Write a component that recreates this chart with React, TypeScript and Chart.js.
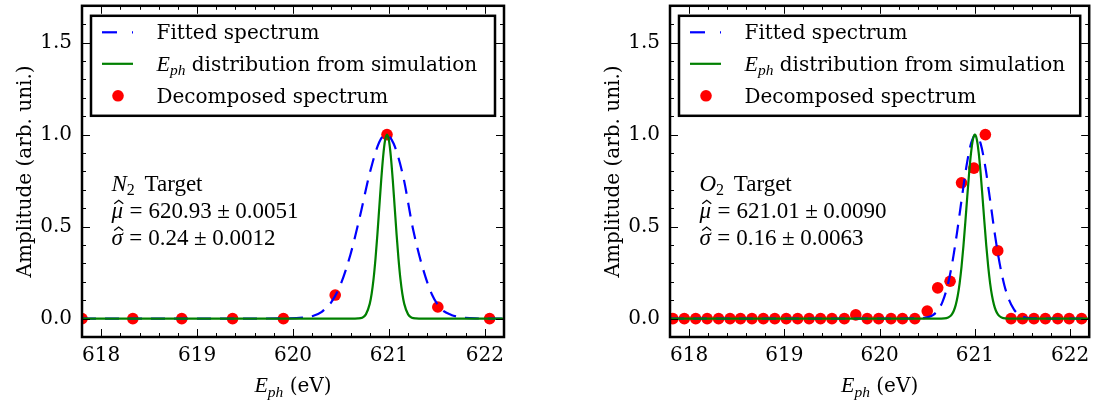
import React, { useEffect, useRef } from "react";
import { Chart, registerables } from "chart.js";

Chart.register(...registerables);

// ---------------- data ----------------
const X_MIN = 617.8;
const X_MAX = 622.2;
const Y_MIN = -0.1;
const Y_MAX = 1.7;
const X_TICKS = [618, 619, 620, 621, 622];
const X_MINOR_TICKS = [618.2, 618.4, 618.6, 618.8, 619.2, 619.4, 619.6, 619.8, 620.2, 620.4, 620.6, 620.8, 621.2, 621.4, 621.6, 621.8];
const Y_TICKS = [0, 0.5, 1.0, 1.5];
const Y_MINOR_TICKS = [0.1, 0.2, 0.3, 0.4, 0.6, 0.7, 0.8, 0.9, 1.1, 1.2, 1.3, 1.4, 1.6];

const LEGEND_LABELS = ["Fitted spectrum", " distribution from simulation", "Decomposed spectrum"];

// N2 target (left panel)
const N2_POINTS_X = [617.80, 618.33, 618.84, 619.37, 619.90, 620.44, 620.98, 621.51, 622.05];
const N2_POINTS_Y = [0, 0, 0, 0, 0, 0.128, 1.0, 0.063, 0];
const N2_FIT_X = [617.8, 618.5, 619.2, 619.9, 620.1, 620.2, 620.3, 620.4, 620.5, 620.6, 620.7, 620.8, 620.9, 620.97, 621.05, 621.15, 621.25, 621.35, 621.45, 621.55, 621.65, 621.75, 621.9, 622.2];
const N2_FIT_Y = [0, 0, 0, 0.001, 0.005, 0.013, 0.037, 0.09, 0.19, 0.35, 0.56, 0.79, 0.96, 1.0, 0.95, 0.77, 0.49, 0.28, 0.13, 0.05, 0.02, 0.007, 0.001, 0];
const N2_SIM_X = [617.8, 620.6, 620.68, 620.72, 620.76, 620.8, 620.82, 620.84, 620.86, 620.88, 620.9, 620.92, 620.94, 620.96, 620.98, 621.0, 621.02, 621.04, 621.06, 621.08, 621.1, 621.12, 621.14, 621.16, 621.2, 621.24, 621.28, 621.36, 622.2];
const N2_SIM_Y = [0, 0, 0.001, 0.005, 0.023, 0.08, 0.135, 0.216, 0.325, 0.458, 0.607, 0.755, 0.882, 0.969, 1.0, 0.969, 0.882, 0.755, 0.607, 0.458, 0.325, 0.216, 0.135, 0.08, 0.023, 0.005, 0.001, 0, 0];

// O2 target (right panel)
const O2_POINTS_X = [617.83, 617.95, 618.07, 618.19, 618.31, 618.43, 618.54, 618.66, 618.78, 618.90, 619.02, 619.14, 619.26, 619.38, 619.50, 619.63, 619.75, 619.87, 619.99, 620.12, 620.24, 620.37, 620.50, 620.61, 620.74, 620.86, 620.99, 621.11, 621.24, 621.38, 621.50, 621.62, 621.74, 621.87, 621.99, 622.12];
const O2_POINTS_Y = [0, 0, 0, 0, 0, 0, 0, 0, 0, 0, 0, 0, 0, 0, 0, 0, 0.02, 0, 0, 0, 0, 0, 0.041, 0.167, 0.203, 0.738, 0.818, 1.0, 0.369, 0, 0, 0, 0, 0, 0, 0];
const O2_FIT_X = [617.8, 620.0, 620.41, 620.51, 620.56, 620.61, 620.66, 620.71, 620.76, 620.81, 620.86, 620.91, 620.96, 621.01, 621.06, 621.11, 621.16, 621.21, 621.26, 621.31, 621.36, 621.41, 621.46, 621.51, 621.61, 622.2];
const O2_FIT_Y = [0, 0, 0.001, 0.008, 0.019, 0.044, 0.091, 0.172, 0.295, 0.458, 0.644, 0.823, 0.952, 1.0, 0.952, 0.823, 0.644, 0.458, 0.3, 0.18, 0.1, 0.05, 0.022, 0.008, 0.001, 0];
const O2_SIM_X = [617.8, 620.6, 620.68, 620.72, 620.74, 620.76, 620.78, 620.8, 620.82, 620.84, 620.86, 620.88, 620.9, 620.92, 620.94, 620.96, 620.98, 621.0, 621.02, 621.04, 621.06, 621.08, 621.1, 621.12, 621.14, 621.16, 621.18, 621.2, 621.22, 621.24, 621.26, 621.28, 621.32, 621.4, 622.2];
const O2_SIM_Y = [0, 0, 0.0014, 0.0064, 0.0128, 0.024, 0.044, 0.076, 0.124, 0.192, 0.282, 0.395, 0.525, 0.662, 0.793, 0.902, 0.975, 1.0, 0.975, 0.902, 0.793, 0.662, 0.525, 0.395, 0.282, 0.192, 0.124, 0.076, 0.044, 0.024, 0.0128, 0.0064, 0.0014, 0, 0];

// ---------------- styles ----------------
const SERIF = '"DejaVu Serif", serif';
const MATH = '"Liberation Serif", serif';
const TICK_FONT_SIZE = 20;
const MATH_SIZE = 23;
const mIt = (s: number) => `italic ${s}px ${MATH}`;
const mRm = (s: number) => `${s}px ${MATH}`;
const txt = (s: number) => `${s}px ${SERIF}`;

type Run = { t?: string; f?: string; dy?: number; gap?: number };

function drawRuns(ctx: CanvasRenderingContext2D, x: number, y: number, runs: Run[]) {
  let cx = x;
  const pos: { x: number; w: number }[] = [];
  for (const r of runs) {
    if (r.gap) {
      cx += r.gap;
      pos.push({ x: cx, w: 0 });
      continue;
    }
    ctx.font = r.f as string;
    const w = ctx.measureText(r.t as string).width;
    ctx.fillText(r.t as string, cx, y + (r.dy || 0));
    pos.push({ x: cx, w });
    cx += w;
  }
  return pos;
}

function runsWidth(ctx: CanvasRenderingContext2D, runs: Run[]) {
  let w = 0;
  for (const r of runs) {
    if (r.gap) { w += r.gap; continue; }
    ctx.font = r.f as string;
    w += ctx.measureText(r.t as string).width;
  }
  return w;
}

function drawHat(ctx: CanvasRenderingContext2D, cx: number, baseline: number) {
  ctx.save();
  ctx.lineWidth = 1.3;
  ctx.strokeStyle = "#000";
  ctx.beginPath();
  ctx.moveTo(cx - 4.5, baseline - 14);
  ctx.lineTo(cx, baseline - 17.5);
  ctx.lineTo(cx + 4.5, baseline - 14);
  ctx.stroke();
  ctx.restore();
}

type PanelDef = {
  key: string;
  target: string;
  mu: string;
  muErr: string;
  sigma: string;
  sigmaErr: string;
  pointsX: number[];
  pointsY: number[];
  fitX: number[];
  fitY: number[];
  simX: number[];
  simY: number[];
  canvasLeft: number;
  canvasWidth: number;
  axisWidth: number;
  padRight: number;
};

const PANELS: PanelDef[] = [
  {
    key: "n2", target: "N", mu: "620.93", muErr: "0.0051", sigma: "0.24", sigmaErr: "0.0012",
    pointsX: N2_POINTS_X, pointsY: N2_POINTS_Y, fitX: N2_FIT_X, fitY: N2_FIT_Y, simX: N2_SIM_X, simY: N2_SIM_Y,
    canvasLeft: 0, canvasWidth: 547, axisWidth: 82, padRight: 43,
  },
  {
    key: "o2", target: "O", mu: "621.01", muErr: "0.0090", sigma: "0.16", sigmaErr: "0.0063",
    pointsX: O2_POINTS_X, pointsY: O2_POINTS_Y, fitX: O2_FIT_X, fitY: O2_FIT_Y, simX: O2_SIM_X, simY: O2_SIM_Y,
    canvasLeft: 547, canvasWidth: 548, axisWidth: 123, padRight: 3,
  },
];

const toXY = (xs: number[], ys: number[]) => xs.map((x, i) => ({ x, y: ys[i] }));

function makeDecor(p: PanelDef) {
  return {
    id: "decor_" + p.key,
    afterDatasetsDraw(chart: any) {
      const ctx: CanvasRenderingContext2D = chart.ctx;
      const a = chart.chartArea;
      const xs = chart.scales.x;
      const ys = chart.scales.y;
      ctx.save();

      // inward ticks on all four sides
      ctx.strokeStyle = "#000";
      ctx.lineWidth = 1;
      ctx.beginPath();
      const xTick = (v: number, len: number) => {
        const px = Math.round(xs.getPixelForValue(v)) + 0.5;
        ctx.moveTo(px, a.bottom); ctx.lineTo(px, a.bottom - len);
        ctx.moveTo(px, a.top); ctx.lineTo(px, a.top + len);
      };
      const yTick = (v: number, len: number) => {
        const py = Math.round(ys.getPixelForValue(v)) + 0.5;
        ctx.moveTo(a.left, py); ctx.lineTo(a.left + len, py);
        ctx.moveTo(a.right, py); ctx.lineTo(a.right - len, py);
      };
      X_TICKS.forEach((v) => xTick(v, 8));
      X_MINOR_TICKS.forEach((v) => xTick(v, 4));
      Y_TICKS.forEach((v) => yTick(v, 8));
      Y_MINOR_TICKS.forEach((v) => yTick(v, 4));
      ctx.stroke();

      // spines
      ctx.lineWidth = 2.5;
      ctx.strokeRect(a.left, a.top, a.right - a.left, a.bottom - a.top);

      // legend
      const lx = a.left + 9;
      const ly = a.top + 10;
      const lw = a.right - a.left - 18;
      const lh = 100;
      ctx.fillStyle = "#fff";
      ctx.fillRect(lx, ly, lw, lh);
      ctx.lineWidth = 2.5;
      ctx.strokeStyle = "#000";
      ctx.strokeRect(lx, ly, lw, lh);
      const rows = [a.top + 26.5, a.top + 58, a.top + 90];
      // fitted handle
      ctx.save();
      ctx.strokeStyle = "#0000ff";
      ctx.lineWidth = 2.2;
      ctx.setLineDash([15, 15]);
      ctx.beginPath();
      ctx.moveTo(lx + 11, rows[0]);
      ctx.lineTo(lx + 42, rows[0]);
      ctx.stroke();
      ctx.restore();
      // sim handle
      ctx.strokeStyle = "#008000";
      ctx.lineWidth = 2.2;
      ctx.beginPath();
      ctx.moveTo(lx + 11, rows[1]);
      ctx.lineTo(lx + 42, rows[1]);
      ctx.stroke();
      // points handle
      ctx.fillStyle = "#ff0000";
      ctx.beginPath();
      ctx.arc(lx + 27, rows[2], 5.8, 0, Math.PI * 2);
      ctx.fill();
      // legend text
      ctx.fillStyle = "#000";
      ctx.textBaseline = "alphabetic";
      ctx.textAlign = "left";
      const tx = lx + 65.5;
      drawRuns(ctx, tx, rows[0] + 7, [{ t: LEGEND_LABELS[0], f: txt(20) }]);
      drawRuns(ctx, tx, rows[1] + 7, [
        { t: "E", f: mIt(22) },
        { t: "ph", f: mIt(15.5), dy: 4.5 },
        { t: LEGEND_LABELS[1], f: txt(20) },
      ]);
      drawRuns(ctx, tx, rows[2] + 7, [{ t: LEGEND_LABELS[2], f: txt(20) }]);

      // annotation
      const ax = a.left + 29.5;
      const b1 = a.top + 185.3;
      const b2 = a.top + 212;
      const b3 = a.top + 238.7;
      const em = MATH_SIZE;
      drawRuns(ctx, ax, b1, [
        { t: p.target, f: mIt(em) },
        { t: "2", f: mRm(16), dy: 4 },
        { gap: 0.42 * em },
        { t: "Target", f: mRm(em) },
      ]);
      const l2 = drawRuns(ctx, ax, b2, [
        { t: "\u03bc", f: mIt(em) },
        { gap: 0.28 * em },
        { t: "=", f: mRm(em) },
        { gap: 0.26 * em },
        { t: p.mu, f: mRm(em) },
        { gap: 0.24 * em },
        { t: "\u00b1", f: mRm(em) },
        { gap: 0.24 * em },
        { t: p.muErr, f: mRm(em) },
      ]);
      drawHat(ctx, l2[0].x + l2[0].w / 2 + 1.5, b2);
      const l3 = drawRuns(ctx, ax, b3, [
        { t: "\u03c3", f: mIt(em) },
        { gap: 0.28 * em },
        { t: "=", f: mRm(em) },
        { gap: 0.26 * em },
        { t: p.sigma, f: mRm(em) },
        { gap: 0.24 * em },
        { t: "\u00b1", f: mRm(em) },
        { gap: 0.24 * em },
        { t: p.sigmaErr, f: mRm(em) },
      ]);
      drawHat(ctx, l3[0].x + l3[0].w / 2 + 1.5, b3);

      // x axis title
      const xRuns: Run[] = [
        { t: "E", f: mIt(22) },
        { t: "ph", f: mIt(15.5), dy: 4.5 },
        { t: " (eV)", f: txt(20) },
      ];
      const xw = runsWidth(ctx, xRuns);
      drawRuns(ctx, (a.left + a.right) / 2 - xw / 2, 392, xRuns);

      // y axis title
      ctx.save();
      ctx.translate(a.left - 51, (a.top + a.bottom) / 2);
      ctx.rotate(-Math.PI / 2);
      ctx.textAlign = "center";
      ctx.font = txt(20);
      ctx.fillText("Amplitude (arb. uni.)", 0, 0);
      ctx.restore();

      ctx.restore();
    },
  };
}

function PanelChart({ p }: { p: PanelDef }) {
  const ref = useRef<HTMLCanvasElement | null>(null);
  useEffect(() => {
    if (!ref.current) return;
    const chart = new Chart(ref.current, {
      type: "scatter",
      data: {
        datasets: [
          {
            label: "sim",
            data: toXY(p.simX, p.simY),
            showLine: true,
            borderColor: "#008000",
            backgroundColor: "#008000",
            borderWidth: 2.2,
            pointRadius: 0,
            cubicInterpolationMode: "monotone",
            clip: 0,
          },
          {
            label: "fit",
            data: toXY(p.fitX, p.fitY),
            showLine: true,
            borderColor: "#0000ff",
            backgroundColor: "#0000ff",
            borderWidth: 2.2,
            borderDash: [14, 9],
            pointRadius: 0,
            cubicInterpolationMode: "monotone",
            clip: 0,
          },
          {
            label: "points",
            data: toXY(p.pointsX, p.pointsY),
            showLine: false,
            pointRadius: 5.8,
            pointBackgroundColor: "#ff0000",
            pointBorderColor: "#ff0000",
            pointBorderWidth: 0,
            clip: 0,
          },
        ],
      } as any,
      options: {
        responsive: false,
        animation: false,
        events: [],
        layout: { padding: { left: 0, right: p.padRight, top: 3, bottom: 0 } },
        plugins: { legend: { display: false }, tooltip: { enabled: false }, title: { display: false } },
        scales: {
          x: {
            type: "linear",
            min: X_MIN,
            max: X_MAX,
            grid: { display: false, drawTicks: false },
            border: { display: false },
            afterBuildTicks: (s: any) => { s.ticks = X_TICKS.map((v) => ({ value: v })); },
            afterFit: (s: any) => { s.height = 67; s.paddingLeft = 0; s.paddingRight = 0; },
            ticks: {
              autoSkip: false,
              maxRotation: 0,
              padding: 7,
              color: "#000",
              font: { family: SERIF, size: TICK_FONT_SIZE },
              callback: (v: any) => String(v),
            },
          },
          y: {
            type: "linear",
            min: Y_MIN,
            max: Y_MAX,
            grid: { display: false, drawTicks: false },
            border: { display: false },
            afterBuildTicks: (s: any) => { s.ticks = Y_TICKS.map((v) => ({ value: v })); },
            afterFit: (s: any) => { s.width = p.axisWidth; s.paddingTop = 0; s.paddingBottom = 0; },
            ticks: {
              autoSkip: false,
              padding: 10,
              color: "#000",
              font: { family: SERIF, size: TICK_FONT_SIZE },
              callback: (v: any) => Number(v).toFixed(1),
            },
          },
        },
      } as any,
      plugins: [makeDecor(p)],
    });
    return () => chart.destroy();
  }, [p]);
  return (
    <canvas
      ref={ref}
      width={p.canvasWidth}
      height={404}
      style={{ position: "absolute", left: p.canvasLeft, top: 0, width: p.canvasWidth, height: 404 }}
    />
  );
}

export default function App() {
  return (
    <div style={{ position: "absolute", left: 0, top: 0, width: 1095, height: 404, background: "#fff", overflow: "hidden" }}>
      {PANELS.map((p) => (
        <PanelChart key={p.key} p={p} />
      ))}
    </div>
  );
}
